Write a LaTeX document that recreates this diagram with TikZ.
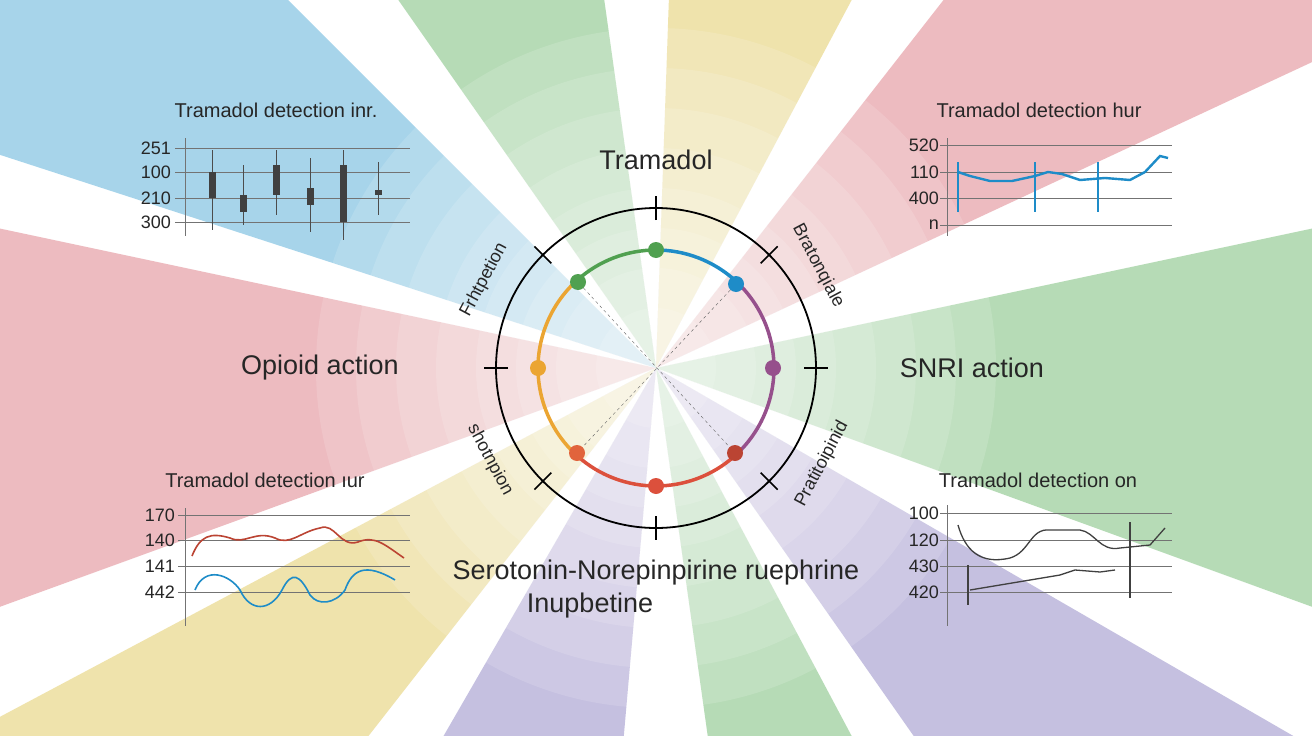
\documentclass[tikz,border=0pt]{standalone}
\usepackage{fontspec}
\setmainfont{Liberation Sans}
\usepackage{tikz}
\definecolor{rayblue}{RGB}{80,170,215}
\definecolor{raygreen}{RGB}{110,185,110}
\definecolor{rayyellow}{RGB}{225,200,90}
\definecolor{raypink}{RGB}{220,120,130}
\definecolor{raypurple}{RGB}{140,130,195}
\definecolor{arcgreen}{RGB}{80,160,80}
\definecolor{arcblue}{RGB}{30,140,200}
\definecolor{arcpurple}{RGB}{150,80,140}
\definecolor{arcred}{RGB}{220,80,60}
\definecolor{arcorange}{RGB}{235,165,50}
\definecolor{arcorange2}{RGB}{225,100,60}
\tikzset{
  lbl/.style={font=\fontsize{18}{18}\selectfont, text=black!85},
  big/.style={font=\fontsize{27}{27}\selectfont, text=black!85},
  ctitle/.style={font=\fontsize{20}{20}\selectfont, text=black!85},
  tick/.style={font=\fontsize{18}{18}\selectfont, text=black!85},
  grid/.style={draw=black!55, line width=0.9pt},
  dot/.style={circle, minimum size=16pt, inner sep=0pt}
}
\begin{document}
\begin{tikzpicture}[x=1pt, y=-1pt]
\useasboundingbox (0,0) rectangle (1312,736);
\clip (0,0) rectangle (1312,736);

% Background rays
\fill[white] (0,0) rectangle (1312,736);
\foreach \a/\b/\c in {135/162/rayblue, 98/125/raygreen, 62/88/rayyellow, 25/52/raypink,
  -20/12/raygreen, -55/-30/raypurple, -82/-62/raygreen, -120/-95/raypurple,
  -152/-128/rayyellow, 168/200/raypink}
  \fill[\c, opacity=0.5] (656,368) -- +(-\a:1000) -- +(-\b:1000) -- cycle;
\foreach \r in {340,300,...,40}
  \fill[white, opacity=0.14] (656,368) circle (\r);

% Dial
\draw[line width=1.8pt] (656,368) circle (160);
\foreach \t in {0,45,...,315}
  \draw[line width=1.5pt] (656,368) ++(-\t:148) -- ++(-\t:24);
\draw[line width=3.5pt, arcgreen] (656,368) ++(-90:118) arc (-90:-132:118);
\draw[line width=3.5pt, arcorange] (656,368) ++(-132:118) arc (-132:-228:118);
\draw[line width=3.5pt, arcred] (656,368) ++(-228:118) arc (-228:-312:118);
\draw[line width=3.5pt, arcpurple] (656,368) ++(-312:118) arc (-312:-408:118);
\draw[line width=3.5pt, arcblue] (656,368) ++(-48:118) arc (-48:-90:118);

\node[dot, fill=arcgreen] (dtop) at (656,250) {};
\node[dot, fill=arcblue] (dtr) at (736,284) {};
\node[dot, fill=arcpurple] (dright) at (773,368) {};
\node[dot, fill=arcred!85!black] (dbr) at (735,453) {};
\node[dot, fill=arcred] (dbot) at (656,486) {};
\node[dot, fill=arcorange2] (dbl) at (577,453) {};
\node[dot, fill=arcorange] (dleft) at (538,368) {};
\node[dot, fill=arcgreen] (dtl) at (578,282) {};
\draw[dashed, black!60] (dtl) -- (dbr);
\draw[dashed, black!60] (dtr) -- (dbl);

% Dial labels
\node[big] (tram) at (656,160) {Tramadol};
\node[lbl, rotate=62] (ltl) at (484,280) {Frhtpetion};
\node[lbl, rotate=-62] (ltr) at (818,266) {Bratonqiale};
\node[lbl, rotate=-62] (lbl) at (490,460) {shotnpion};
\node[lbl, rotate=62] (lbr) at (822,464) {Pratitoipinid};
\node[big] (opi) at (320,368) {Opioid action};
\node[big] (snri) at (972,368) {SNRI action};
\node[big] (ser) at (656,573) {Serotonin-Norepinpirine ruephrine};
\node[big] (inu) at (590,606) {Inupbetine};

% Top-left chart
\node[ctitle] (t1) at (276,110) {Tramadol detection inr.};
\draw[grid] (185,138) -- (185,236);
\foreach \y/\v in {148/251,172/100,198/210,222/300} {
  \draw[grid] (175,\y) -- (410,\y);
  \node[tick, anchor=east, inner sep=1pt] at (172,\y) {\v};
}
\foreach \x/\ya/\yb/\ba/\bb in {212/150/230/172/198, 243/165/225/195/212, 276/150/215/165/195,
  310/158/232/188/205, 343/150/240/165/222, 378/162/215/190/195}
  { \draw[black!70, line width=1pt] (\x,\ya) -- (\x,\yb);
    \fill[black!75] (\x-3.5,\ba) rectangle (\x+3.5,\bb); }

% Top-right chart
\node[ctitle] (t2) at (1039,110) {Tramadol detection hur};
\draw[grid] (947,138) -- (947,236);
\foreach \y/\v in {145/520,172/110,198/400,225/n} {
  \draw[grid] (940,\y) -- (1172,\y);
  \node[tick, anchor=east, inner sep=1pt] at (940,\y) {\v};
}
\draw[arcblue, line width=2.4pt] (958,172) -- (970,176) -- (990,181) -- (1012,181) -- (1035,176)
  -- (1048,172) -- (1062,174) -- (1080,180) -- (1105,178) -- (1130,180) -- (1145,172)
  -- (1160,156) -- (1168,158);
\foreach \x in {958,1035,1098} \draw[arcblue, line width=1.6pt] (\x,162) -- (\x,212);

% Bottom-left chart
\node[ctitle] (t3) at (265,480) {Tramadol detection ıur};
\draw[grid] (185,508) -- (185,626);
\foreach \y/\v in {515/170,540/140,566/141,592/442} {
  \draw[grid] (178,\y) -- (410,\y);
  \node[tick, anchor=east, inner sep=1pt] at (176,\y) {\v};
}
\draw[arcred!85!black, line width=1.6pt] (192,556) .. controls (200,536) and (210,532) .. (230,538)
  .. controls (245,545) and (255,530) .. (275,538) .. controls (290,546) and (300,532) .. (320,528)
  .. controls (335,522) and (340,548) .. (358,542) .. controls (375,535) and (385,545) .. (404,558);
\draw[arcblue, line width=1.6pt] (195,590) .. controls (205,565) and (230,575) .. (240,590)
  .. controls (250,612) and (270,612) .. (282,590) .. controls (292,570) and (300,575) .. (310,595)
  .. controls (318,606) and (335,604) .. (345,590) .. controls (352,570) and (365,562) .. (395,580);

% Bottom-right chart
\node[ctitle] (t4) at (1038,480) {Tramadol detection on};
\draw[grid] (947,505) -- (947,626);
\foreach \y/\v in {513/100,540/120,566/430,592/420} {
  \draw[grid] (940,\y) -- (1172,\y);
  \node[tick, anchor=east, inner sep=1pt] at (940,\y) {\v};
}
\draw[black!75, line width=1.3pt] (958,525) .. controls (965,550) and (980,565) .. (1010,558)
  .. controls (1030,552) and (1030,528) .. (1050,530) -- (1080,530)
  .. controls (1095,532) and (1100,552) .. (1120,548) -- (1150,545) -- (1165,528);
\draw[black!75, line width=1.3pt] (970,590) -- (1000,585) -- (1030,580) -- (1060,575) -- (1075,570) -- (1100,572) -- (1115,570);
\draw[black!75, line width=1.3pt] (1130,522) -- (1130,598);
\draw[black!75, line width=1.3pt] (968,565) -- (968,605);
\end{tikzpicture}
\end{document}
